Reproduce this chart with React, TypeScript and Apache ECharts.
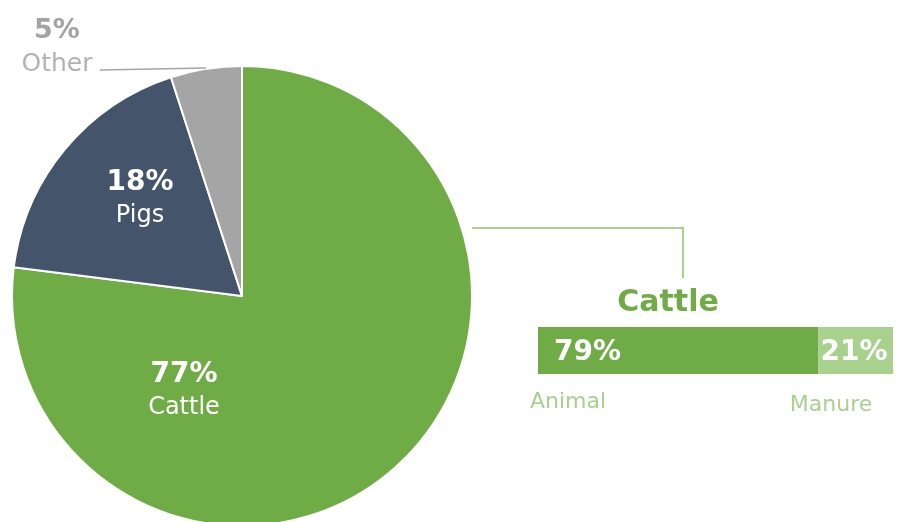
import React, { useEffect, useRef } from "react";
import * as echarts from "echarts";

const pieNames = ["Cattle", "Pigs", "Other"];
const pieValues = [77, 18, 5];
const pieColors = ["#6fac46", "#44546a", "#a5a5a5"];

const barTitle = "Cattle";
const barNames = ["Animal", "Manure"];
const barValues = [79, 21];
const barColors = ["#6fac46", "#a9d18e"];

export default function App() {
  const ref = useRef<HTMLDivElement>(null);
  useEffect(() => {
    if (!ref.current) return;
    const chart = echarts.init(ref.current, undefined, { renderer: "svg" });
    const font = "DejaVu Sans, Verdana, sans-serif";
    const labelPos: Record<string, [number, number]> = {
      Cattle: [184, 389],
      Pigs: [140, 197],
      Other: [57, 45],
    };
    chart.setOption({
      animation: false,
      textStyle: { fontFamily: font },
      title: {
        text: barTitle,
        left: 663,
        top: 280,
        textAlign: "center",
        textStyle: { color: "#6fac46", fontSize: 30, fontWeight: "bold", fontFamily: font },
      },
      grid: { left: 538, top: 327, width: 355, height: 47 },
      xAxis: { type: "value", min: 0, max: 100, show: false },
      yAxis: { type: "category", data: [barTitle], show: false },
      graphic: [
        {
          type: "polyline",
          shape: { points: [[472, 228], [683, 228], [683, 278]] },
          style: { stroke: "#a9d18e", lineWidth: 2, fill: "none" },
          z: 10,
        },
        {
          type: "line",
          shape: { x1: 100, y1: 70, x2: 206, y2: 68 },
          style: { stroke: "#a5a5a5", lineWidth: 1.5 },
          z: 10,
        },
        {
          type: "text",
          x: 568,
          y: 400,
          style: { text: barNames[0], fill: "#a9d18e", font: `22px ${font}`, align: "center", verticalAlign: "middle" },
        },
        {
          type: "text",
          x: 831,
          y: 403,
          style: { text: barNames[1], fill: "#a9d18e", font: `22px ${font}`, align: "center", verticalAlign: "middle" },
        },
      ],
      series: [
        {
          type: "pie",
          center: [242, 296],
          radius: 230,
          startAngle: 90,
          clockwise: true,
          itemStyle: { borderColor: "#ffffff", borderWidth: 2 },
          labelLine: { show: false },
          label: {
            show: true,
            position: "inside",
            formatter: (p: any) => `{b|${p.value}%}\n{n|${p.name}}`,
            rich: {
              b: { fontSize: 28, fontWeight: "bold", color: "#ffffff", fontFamily: font, lineHeight: 33, align: "center" },
              n: { fontSize: 24, color: "#ffffff", fontFamily: font, lineHeight: 33, align: "center" },
            },
          },
          labelLayout: (p: any) => {
            const pos = labelPos[pieNames[p.dataIndex]];
            return { x: pos[0], y: pos[1], align: "center", verticalAlign: "middle" };
          },
          data: pieNames.map((n, i) => ({
            name: n,
            value: pieValues[i],
            itemStyle: { color: pieColors[i] },
            label:
              n === "Other"
                ? {
                    rich: {
                      b: { fontSize: 27, fontWeight: "bold", color: "#a3a3a3", fontFamily: font, lineHeight: 34, align: "center" },
                      n: { fontSize: 25, color: "#b2b2b2", fontFamily: font, lineHeight: 34, align: "center" },
                    },
                  }
                : undefined,
          })),
        },
        ...barNames.map((n, i) => ({
          type: "bar",
          name: n,
          stack: "total",
          barWidth: "100%",
          data: [barValues[i]],
          itemStyle: { color: barColors[i] },
          label: {
            show: true,
            position: "insideLeft",
            distance: i === 0 ? 16 : 2,
            formatter: "{c}%",
            color: "#ffffff",
            fontSize: 28,
            fontWeight: "bold",
            fontFamily: font,
          },
        })),
      ],
    });
    return () => chart.dispose();
  }, []);
  return <div ref={ref} style={{ position: "fixed", left: 0, top: 0, width: 899, height: 522 }} />;
}
